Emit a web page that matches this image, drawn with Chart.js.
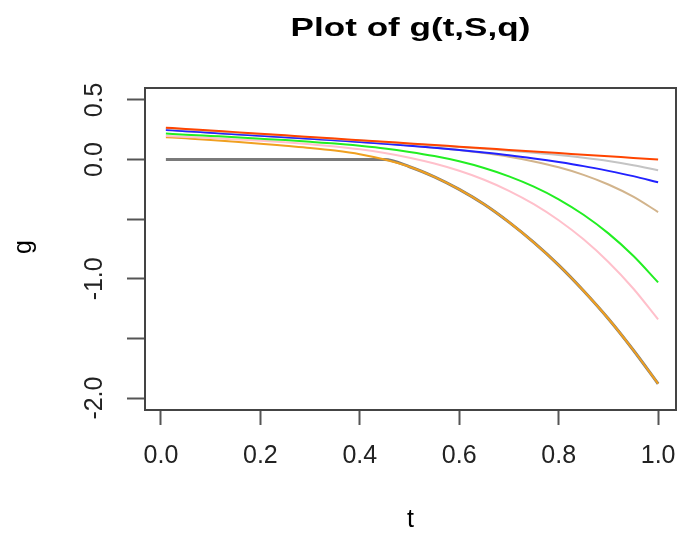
<!DOCTYPE html>
<html>
<head>
<meta charset="utf-8">
<script src="https://cdn.jsdelivr.net/npm/chart.js@4/dist/chart.umd.min.js"></script>
<style>
  html, body { margin: 0; padding: 0; background: #fff; }
  canvas { display: block; }
</style>
</head>
<body>
<canvas id="gChart" width="683" height="538"></canvas>
<script>
// values, t from 0 to 1
const tValues = [0.01, 0.05, 0.10, 0.15, 0.20, 0.25, 0.30, 0.35, 0.40, 0.45, 0.50,
                 0.55, 0.60, 0.65, 0.70, 0.75, 0.80, 0.85, 0.90, 0.95, 1.00];

const gRed = [0.267, 0.257, 0.243, 0.230, 0.216, 0.203, 0.189, 0.176, 0.162, 0.149, 0.135,
              0.122, 0.108, 0.095, 0.081, 0.068, 0.054, 0.041, 0.027, 0.014, 0.000];
const gLightGrey = [0.262, 0.252, 0.239, 0.225, 0.212, 0.199, 0.186, 0.172, 0.159, 0.146, 0.132,
                    0.118, 0.105, 0.090, 0.074, 0.057, 0.038, 0.015, -0.012, -0.047, -0.090];
const gBlue = [0.248, 0.238, 0.225, 0.213, 0.200, 0.187, 0.174, 0.161, 0.147, 0.132, 0.116,
               0.099, 0.080, 0.059, 0.036, 0.009, -0.021, -0.055, -0.095, -0.139, -0.190];
const gTan = [0.248, 0.238, 0.225, 0.213, 0.200, 0.188, 0.175, 0.162, 0.148, 0.134, 0.118,
              0.100, 0.080, 0.054, 0.023, -0.016, -0.065, -0.128, -0.209, -0.311, -0.440];
const gGreen = [0.218, 0.209, 0.198, 0.187, 0.175, 0.163, 0.149, 0.134, 0.115, 0.093, 0.064,
                0.029, -0.015, -0.071, -0.141, -0.227, -0.333, -0.463, -0.619, -0.807, -1.030];
const gPink = [0.198, 0.190, 0.180, 0.169, 0.158, 0.145, 0.129, 0.110, 0.086, 0.055, 0.016,
               -0.033, -0.094, -0.169, -0.262, -0.374, -0.509, -0.669, -0.859, -1.081, -1.340];
const gOrange = [0.188, 0.178, 0.165, 0.150, 0.133, 0.115, 0.097, 0.075, 0.045, 0.000, -0.060,
                 -0.145, -0.250, -0.375, -0.525, -0.695, -0.885, -1.100, -1.335, -1.597, -1.880];
const gZeroCap = [0, 0, 0, 0, 0, 0, 0, 0, 0, 0, -0.060,
                  -0.145, -0.250, -0.375, -0.525, -0.695, -0.885, -1.100, -1.335, -1.597, -1.880];

const xTicks = [0.0, 0.2, 0.4, 0.6, 0.8, 1.0];
const yTicks = [0.5, 0.0, -0.5, -1.0, -1.5, -2.0];
const yTickLabels = ['0.5', '0.0', '', '-1.0', '', '-2.0'];

function pts(ys) {
    return tValues.map((t, i) => ({ x: t, y: ys[i] }));
}

function line(data, color, width) {
    return {
        data: pts(data),
        borderColor: color,
        borderWidth: width,
        pointRadius: 0,
        fill: false,
        cubicInterpolationMode: 'monotone'
    };
}

// title, axis names and the box round the plot, R style
const rFrame = {
    id: 'rFrame',
    afterDraw(chart) {
        const { ctx, chartArea: a } = chart;
        ctx.save();
        ctx.strokeStyle = '#444';
        ctx.lineWidth = 2;
        ctx.strokeRect(a.left, a.top, a.right - a.left, a.bottom - a.top);

        ctx.fillStyle = '#000';
        ctx.textAlign = 'center';
        ctx.textBaseline = 'middle';

        const cx = (a.left + a.right) / 2;
        ctx.save();
        ctx.translate(cx, 29);
        ctx.scale(1.35, 1);
        ctx.font = 'bold 26px "Liberation Sans", Arial, sans-serif';
        ctx.fillText('Plot of g(t,S,q)', 0, 0);
        ctx.restore();

        ctx.font = '25px "Liberation Sans", Arial, sans-serif';
        ctx.fillText('t', cx, 520);

        ctx.save();
        ctx.translate(24, 247);
        ctx.rotate(-Math.PI / 2);
        ctx.fillText('g', 0, 0);
        ctx.restore();
        ctx.restore();
    }
};

const ctx = document.getElementById('gChart').getContext('2d');
const gChart = new Chart(ctx, {
    type: 'line',
    data: {
        datasets: [
            line(gRed, '#FF4500', 2),
            line(gLightGrey, '#C4C4C4', 2),
            line(gBlue, '#2222FF', 2),
            line(gTan, '#D2B48C', 2),
            line(gGreen, '#22EE22', 2),
            line(gPink, '#FFC0CB', 2),
            line(gOrange, '#F0A020', 2),
            line(gZeroCap, '#7a7a7a', 3)
        ]
    },
    options: {
        responsive: false,
        animation: false,
        layout: { padding: { top: 88, right: 7, bottom: 0, left: 0 } },
        plugins: {
            legend: { display: false },
            tooltip: { enabled: false }
        },
        scales: {
            x: {
                type: 'linear',
                min: -0.032,
                max: 1.036,
                afterFit(scale) {
                    scale.height = 128;
                    scale.paddingLeft = 0;
                    scale.paddingRight = 0;
                },
                afterBuildTicks(scale) { scale.ticks = xTicks.map(v => ({ value: v })); },
                grid: { drawOnChartArea: false, drawTicks: true, tickLength: 15, tickWidth: 2, tickColor: '#555' },
                border: { display: false },
                ticks: {
                    padding: 16,
                    color: '#222',
                    font: { family: '"Liberation Sans", Arial, sans-serif', size: 25 },
                    maxRotation: 0,
                    callback: v => v.toFixed(1)
                }
            },
            y: {
                type: 'linear',
                min: -2.1,
                max: 0.6,
                afterFit(scale) {
                    scale.width = 145;
                    scale.paddingTop = 0;
                    scale.paddingBottom = 0;
                },
                afterBuildTicks(scale) { scale.ticks = yTicks.map(v => ({ value: v })); },
                grid: { drawOnChartArea: false, drawTicks: true, tickLength: 18, tickWidth: 2, tickColor: '#555' },
                border: { display: false },
                ticks: {
                    padding: 10,
                    color: '#222',
                    minRotation: 90,
                    maxRotation: 90,
                    crossAlign: 'center',
                    font: { family: '"Liberation Sans", Arial, sans-serif', size: 25 },
                    callback: (v, i) => yTickLabels[i]
                }
            }
        }
    },
    plugins: [rFrame]
});
</script>
</body>
</html>
